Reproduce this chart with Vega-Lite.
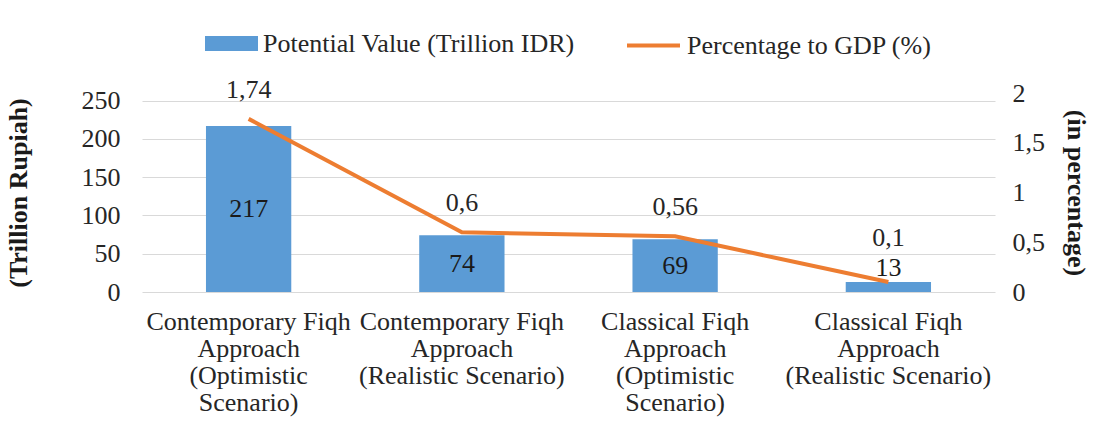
{
  "$schema": "https://vega.github.io/schema/vega-lite/v6.json",
  "width": 853,
  "height": 199,
  "autosize": {"type": "none"},
  "padding": {"left": 142, "top": 93, "right": 111, "bottom": 140},
  "background": "white",
  "config": {
    "font": "Liberation Serif",
    "view": {"stroke": null},
    "locale": {"number": {"decimal": ",", "thousands": ".", "grouping": [3], "currency": ["", ""]}},
    "axis": {"labelFont": "Liberation Serif", "labelFontSize": 26, "labelColor": "#262626", "titleFont": "Liberation Serif", "titleFontSize": 26, "titleFontWeight": "bold", "titleColor": "#1a1a1a", "domain": false, "ticks": false, "labelOverlap": false, "labelLimit": 400},
    "legend": {"labelFont": "Liberation Serif", "labelFontSize": 26, "labelColor": "#262626", "labelLimit": 500, "orient": "top", "offset": 34, "layout": {"top": {"anchor": "middle", "direction": "horizontal", "margin": 50}}}
  },
  "data": {
    "values": [
      {"cat": "Contemporary Fiqh|Approach|(Optimistic|Scenario)", "value": 217, "pct": 1.74},
      {"cat": "Contemporary Fiqh|Approach|(Realistic Scenario)", "value": 74, "pct": 0.6},
      {"cat": "Classical Fiqh|Approach|(Optimistic|Scenario)", "value": 69, "pct": 0.56},
      {"cat": "Classical Fiqh|Approach|(Realistic Scenario)", "value": 13, "pct": 0.1}
    ]
  },
  "encoding": {
    "x": {
      "field": "cat", "type": "nominal", "sort": null,
      "scale": {"paddingInner": 0.6, "paddingOuter": 0.3},
      "axis": {"title": null, "labelAngle": 0, "labelExpr": "split(datum.label, '|')", "labelLineHeight": 27, "labelPadding": 16, "labelBaseline": "top"}
    }
  },
  "layer": [
    {
      "layer": [
        {
          "mark": {"type": "bar", "color": "#5B9BD5"},
          "encoding": {
            "y": {"field": "value", "type": "quantitative", "scale": {"domain": [0, 250]},
              "axis": {"title": "(Trillion Rupiah)", "values": [0, 50, 100, 150, 200, 250], "grid": true, "gridColor": "#d9d9d9", "labelPadding": 22, "titlePadding": 50}},
            "fill": {"datum": "Potential Value (Trillion IDR)", "type": "nominal",
              "scale": {"range": ["#5B9BD5"]},
              "legend": {"title": null, "symbolType": "M-1,-0.28H1V0.28H-1Z", "symbolSize": 2809, "symbolStrokeWidth": 0, "labelOffset": 5}}
          }
        },
        {
          "transform": [{"filter": "datum.value >= 30"}, {"calculate": "datum.value / 2", "as": "mid"}],
          "mark": {"type": "text", "fontSize": 26, "color": "#1a1a1a", "baseline": "middle"},
          "encoding": {
            "y": {"field": "mid", "type": "quantitative",
              "axis": {"title": "(Trillion Rupiah)", "values": [0, 50, 100, 150, 200, 250], "grid": true, "gridColor": "#d9d9d9", "labelPadding": 22, "titlePadding": 50}},
            "text": {"field": "value", "type": "quantitative"}
          }
        },
        {
          "transform": [{"filter": "datum.value < 30"}],
          "mark": {"type": "text", "fontSize": 26, "color": "#1a1a1a", "baseline": "middle", "dy": -14},
          "encoding": {
            "y": {"field": "value", "type": "quantitative",
              "axis": {"title": "(Trillion Rupiah)", "values": [0, 50, 100, 150, 200, 250], "grid": true, "gridColor": "#d9d9d9", "labelPadding": 22, "titlePadding": 50}},
            "text": {"field": "value", "type": "quantitative"}
          }
        }
      ]
    },
    {
      "layer": [
        {
          "mark": {"type": "line", "color": "#ED7D31", "strokeWidth": 4},
          "encoding": {
            "y": {"field": "pct", "type": "quantitative", "scale": {"domain": [0, 2]},
              "axis": {"orient": "right", "title": "(in percentage)", "values": [0, 0.5, 1, 1.5, 2], "format": "~g", "grid": false, "labelPadding": 17, "titlePadding": 18}},
            "stroke": {"datum": "Percentage to GDP (%)", "type": "nominal",
              "scale": {"range": ["#ED7D31"]},
              "legend": {"title": null, "symbolType": "stroke", "symbolSize": 2809, "symbolStrokeWidth": 4, "labelOffset": 5}}
          }
        },
        {
          "transform": [{"filter": "datum.pct >= 0.2"}],
          "mark": {"type": "text", "fontSize": 26, "color": "#262626", "baseline": "middle", "dy": -29},
          "encoding": {
            "y": {"field": "pct", "type": "quantitative",
              "axis": {"orient": "right", "title": "(in percentage)", "values": [0, 0.5, 1, 1.5, 2], "format": "~g", "grid": false, "labelPadding": 17, "titlePadding": 18}},
            "text": {"field": "pct", "type": "quantitative", "format": "~g"}
          }
        },
        {
          "transform": [{"filter": "datum.pct < 0.2"}],
          "mark": {"type": "text", "fontSize": 26, "color": "#262626", "baseline": "middle", "dy": -44},
          "encoding": {
            "y": {"field": "pct", "type": "quantitative",
              "axis": {"orient": "right", "title": "(in percentage)", "values": [0, 0.5, 1, 1.5, 2], "format": "~g", "grid": false, "labelPadding": 17, "titlePadding": 18}},
            "text": {"field": "pct", "type": "quantitative", "format": "~g"}
          }
        }
      ]
    }
  ],
  "resolve": {"scale": {"y": "independent", "fill": "independent", "stroke": "independent"}}
}
